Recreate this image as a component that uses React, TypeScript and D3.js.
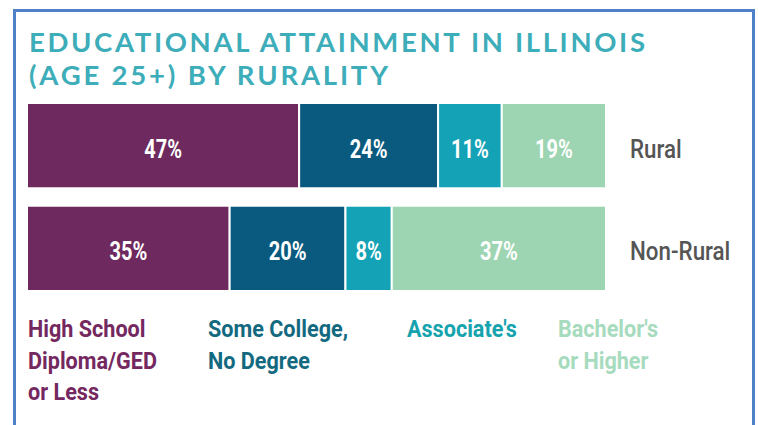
import React from "react";
import * as d3 from "d3";

// Share of adults (25+) by highest education level, per area type
const categories = ["Rural", "Non-Rural"];
const seriesKeys = ["hs", "some", "assoc", "bach"];
const highSchool = [47, 35];
const someCollege = [24, 20];
const associates = [11, 8];
const bachelors = [19, 37];

const legendLines = [
  ["High School", "Diploma/GED", "or Less"],
  ["Some College,", "No Degree"],
  ["Associate's"],
  ["Bachelor's", "or Higher"],
];

const titleLines = ["EDUCATIONAL ATTAINMENT IN ILLINOIS", "(AGE 25+) BY RURALITY"];

const W = 758;
const H = 425;

const barColors = ["#6e2a5e", "#0a5a80", "#13a2b6", "#9dd5b2"];
const legendColors = ["#74285f", "#136a80", "#16a3ae", "#a6dbbe"];
const legendX = [28, 208, 407, 558];

const narrowFont = "Roboto, 'Noto Sans', sans-serif";

// Text drawn in a horizontally squeezed sans to get a condensed face
function NarrowText({
  x,
  y,
  anchor = "start",
  fill,
  size,
  weight = 700,
  squeeze = 0.84,
  children,
}: {
  x: number;
  y: number;
  anchor?: "start" | "middle" | "end";
  fill: string;
  size: number;
  weight?: number;
  squeeze?: number;
  children: React.ReactNode;
}) {
  return (
    <text
      transform={`translate(${x},${y}) scale(${squeeze},1)`}
      textAnchor={anchor}
      fill={fill}
      fontFamily={narrowFont}
      fontSize={size}
      fontWeight={weight}
    >
      {children}
    </text>
  );
}

export default function App() {
  const rows = categories.map((c, i) => ({
    category: c,
    hs: highSchool[i],
    some: someCollege[i],
    assoc: associates[i],
    bach: bachelors[i],
  }));

  const stacked = d3.stack<any>().keys(seriesKeys)(rows);

  const y = d3
    .scaleBand<string>()
    .domain(categories)
    .range([103, 291])
    .paddingInner(0.17);

  // shared 0–100% axis; rounded shares that sum past 100 stop at the edge
  const x = d3.scaleLinear().domain([0, 100]).range([27, 606]).clamp(true);

  return (
    <svg
      width={W}
      height={H}
      style={{ position: "absolute", left: 0, top: 0, background: "#fff" }}
    >
      <rect x={0} y={0} width={W} height={H} fill="#fff" />
      {/* frame */}
      <path
        d={`M14.5,${H + 2} L14.5,10.5 L753.5,10.5 L753.5,${H + 2}`}
        fill="none"
        stroke="#4f80c8"
        strokeWidth={3}
      />

      {titleLines.map((t, i) => (
        <text
          key={t}
          x={29}
          y={52 + i * 33}
          fill="#3dadb9"
          fontFamily="Lato, 'Open Sans', sans-serif"
          fontSize={27.5}
          fontWeight={700}
          textLength={i === 0 ? 616 : 359}
          lengthAdjust="spacing"
        >
          {t}
        </text>
      ))}

      {stacked.map((layer, si) =>
        layer.map((d, ri) => {
          const x0 = x(d[0]);
          const x1 = x(d[1]);
          const yy = y(categories[ri])!;
          const v = d[1] - d[0];
          return (
            <g key={`${si}-${ri}`}>
              <rect
                x={x0}
                y={yy}
                width={x1 - x0}
                height={y.bandwidth()}
                fill={barColors[si]}
                stroke="#fff"
                strokeWidth={2}
              />
              <NarrowText
                x={(x0 + x1) / 2}
                y={yy + y.bandwidth() / 2 + 12}
                anchor="middle"
                fill="#fff"
                size={26}
                squeeze={0.77}
              >
                {`${v}%`}
              </NarrowText>
            </g>
          );
        })
      )}

      {categories.map((c) => (
        <NarrowText
          key={c}
          x={630}
          y={y(c)! + y.bandwidth() / 2 + 12}
          fill="#555"
          size={26}
          weight={500}
          squeeze={0.86}
        >
          {c}
        </NarrowText>
      ))}

      {legendLines.map((lines, si) =>
        lines.map((l, li) => (
          <NarrowText
            key={`${si}-${li}`}
            x={legendX[si]}
            y={337 + li * 31.5}
            fill={legendColors[si]}
            size={24}
            weight={700}
            squeeze={0.9}
          >
            {l}
          </NarrowText>
        ))
      )}
    </svg>
  );
}
